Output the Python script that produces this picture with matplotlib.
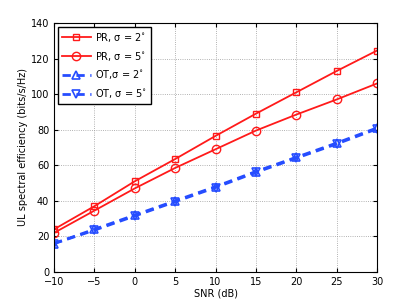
import numpy as np
import matplotlib
matplotlib.use("Agg")
import matplotlib.pyplot as pl

matplotlib.rcParams.update({'font.size': 7, 'font.family': 'DejaVu Sans'})

snr = [-10, -5, 0, 5, 10, 15, 20, 25, 30]
pr_2deg = [24, 37, 51, 63.5, 76.5, 89, 101, 113, 124.5]
pr_5deg = [22, 34.5, 47, 58.5, 69, 79.5, 88.5, 97, 106]
ot_2deg = [16, 24, 32, 40, 48, 56.5, 64.5, 72.5, 81]
ot_5deg = [16, 23.5, 31.5, 39.5, 47.5, 56, 64, 72, 80.5]

red = (1, 0.1, 0.1)
blue = (0.15, 0.3, 1)

fig = pl.figure(figsize=(4.15, 3.07), dpi=100)
ax = fig.add_axes([54/415, 1-272/307, (377-54)/415, (272-23)/307])

ax.plot(snr, pr_2deg, '-', c=red, lw=1.3, marker='s', ms=5, mfc='none', mew=1,
        label='PR, \u03c3 = 2$^{\\circ}$')
ax.plot(snr, pr_5deg, '-', c=red, lw=1.3, marker='o', ms=6, mfc='none', mew=1,
        label='PR, \u03c3 = 5$^{\\circ}$')
ax.plot(snr, ot_2deg, '--', c=blue, lw=2, marker='^', ms=6, mfc='none', mew=1.2,
        dashes=(3, 2), label='OT,\u03c3 = 2$^{\\circ}$')
ax.plot(snr, ot_5deg, '--', c=blue, lw=2, marker='v', ms=6, mfc='none', mew=1.2,
        dashes=(3, 2), label='OT, \u03c3 = 5$^{\\circ}$')

ax.set_xlim(-10, 30)
ax.set_ylim(0, 140)
ax.set_xticks(np.arange(-10, 31, 5))
ax.set_yticks(np.arange(0, 141, 20))
ax.grid(ls=':', c='0.6', lw=0.6)
ax.tick_params(direction='in', length=3, top=True, right=True)
ax.set_xlabel('SNR (dB)', labelpad=1)
ax.set_ylabel('UL spectral efficiency (bits/s/Hz)', labelpad=2)
ax.legend(loc='upper left', fancybox=False, edgecolor='black', framealpha=1,
          handlelength=3, handletextpad=0.4, borderaxespad=0.4, labelspacing=0.6)

fig.savefig('out.png', dpi=100)
